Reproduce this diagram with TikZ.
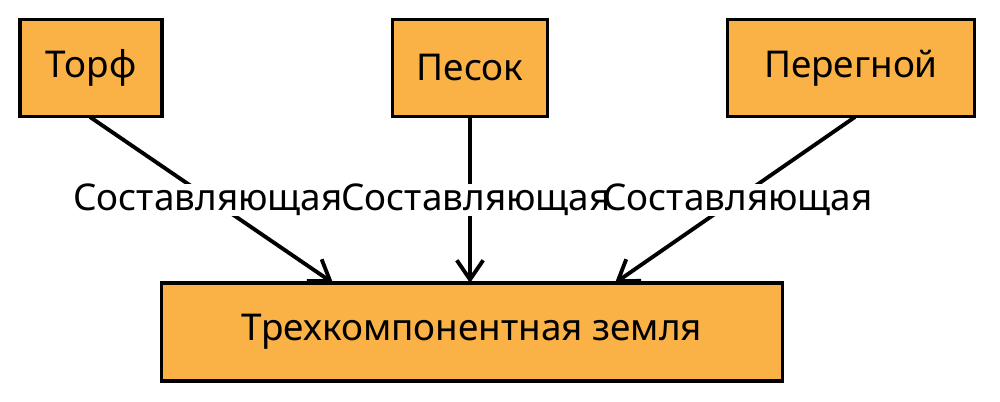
\documentclass[tikz,border=0pt]{standalone}
\usepackage{fontspec}
\setmainfont{Noto Sans}
\usetikzlibrary{arrows.meta}
\definecolor{boxfill}{HTML}{FAB246}
\begin{document}
\begin{tikzpicture}[x=0.02cm,y=-0.02cm,
  box/.style={draw=black,line width=1.8pt,fill=boxfill,inner sep=0pt,font=\fontsize{21}{25}\selectfont},
  conn/.style={draw=black,line width=2.2pt,-{Straight Barb[length=11pt,width=15pt]}},
  lblbg/.style={fill=white,inner sep=0pt,font=\fontsize{21}{25}\selectfont},
  lbl/.style={inner sep=0pt,font=\fontsize{21}{25}\selectfont}]
\useasboundingbox (0,0) rectangle (1000,402);
\node[box,minimum width=142*0.02cm,minimum height=97*0.02cm] (t) at (91,68) {Торф};
\node[box,minimum width=155*0.02cm,minimum height=97*0.02cm] (p) at (470,68) {Песок};
\node[box,minimum width=247*0.02cm,minimum height=97*0.02cm] (g) at (851,68) {Перегной};
\node[box,minimum width=621*0.02cm,minimum height=98*0.02cm] (z) at (472,332) {Трехкомпонентная земля};
\coordinate (za) at (333,283);
\coordinate (zb) at (470,283);
\coordinate (zc) at (615,283);
\coordinate (ta) at (90,117);
\coordinate (pa) at (470,117);
\coordinate (ga) at (855,117);
\draw[conn] (ta) -- (za);
\draw[conn] (pa) -- (zb);
\draw[conn] (ga) -- (zc);
\node[lblbg] (b1) at (208,200) {\phantom{Составляющая}};
\node[lblbg] (b2) at (476,200) {\phantom{Составляющая}};
\node[lblbg] (b3) at (738,200) {\phantom{Составляющая}};
\node[lbl] (l1) at (b1) {Составляющая};
\node[lbl] (l2) at (b2) {Составляющая};
\node[lbl] (l3) at (b3) {Составляющая};
\end{tikzpicture}
\end{document}
